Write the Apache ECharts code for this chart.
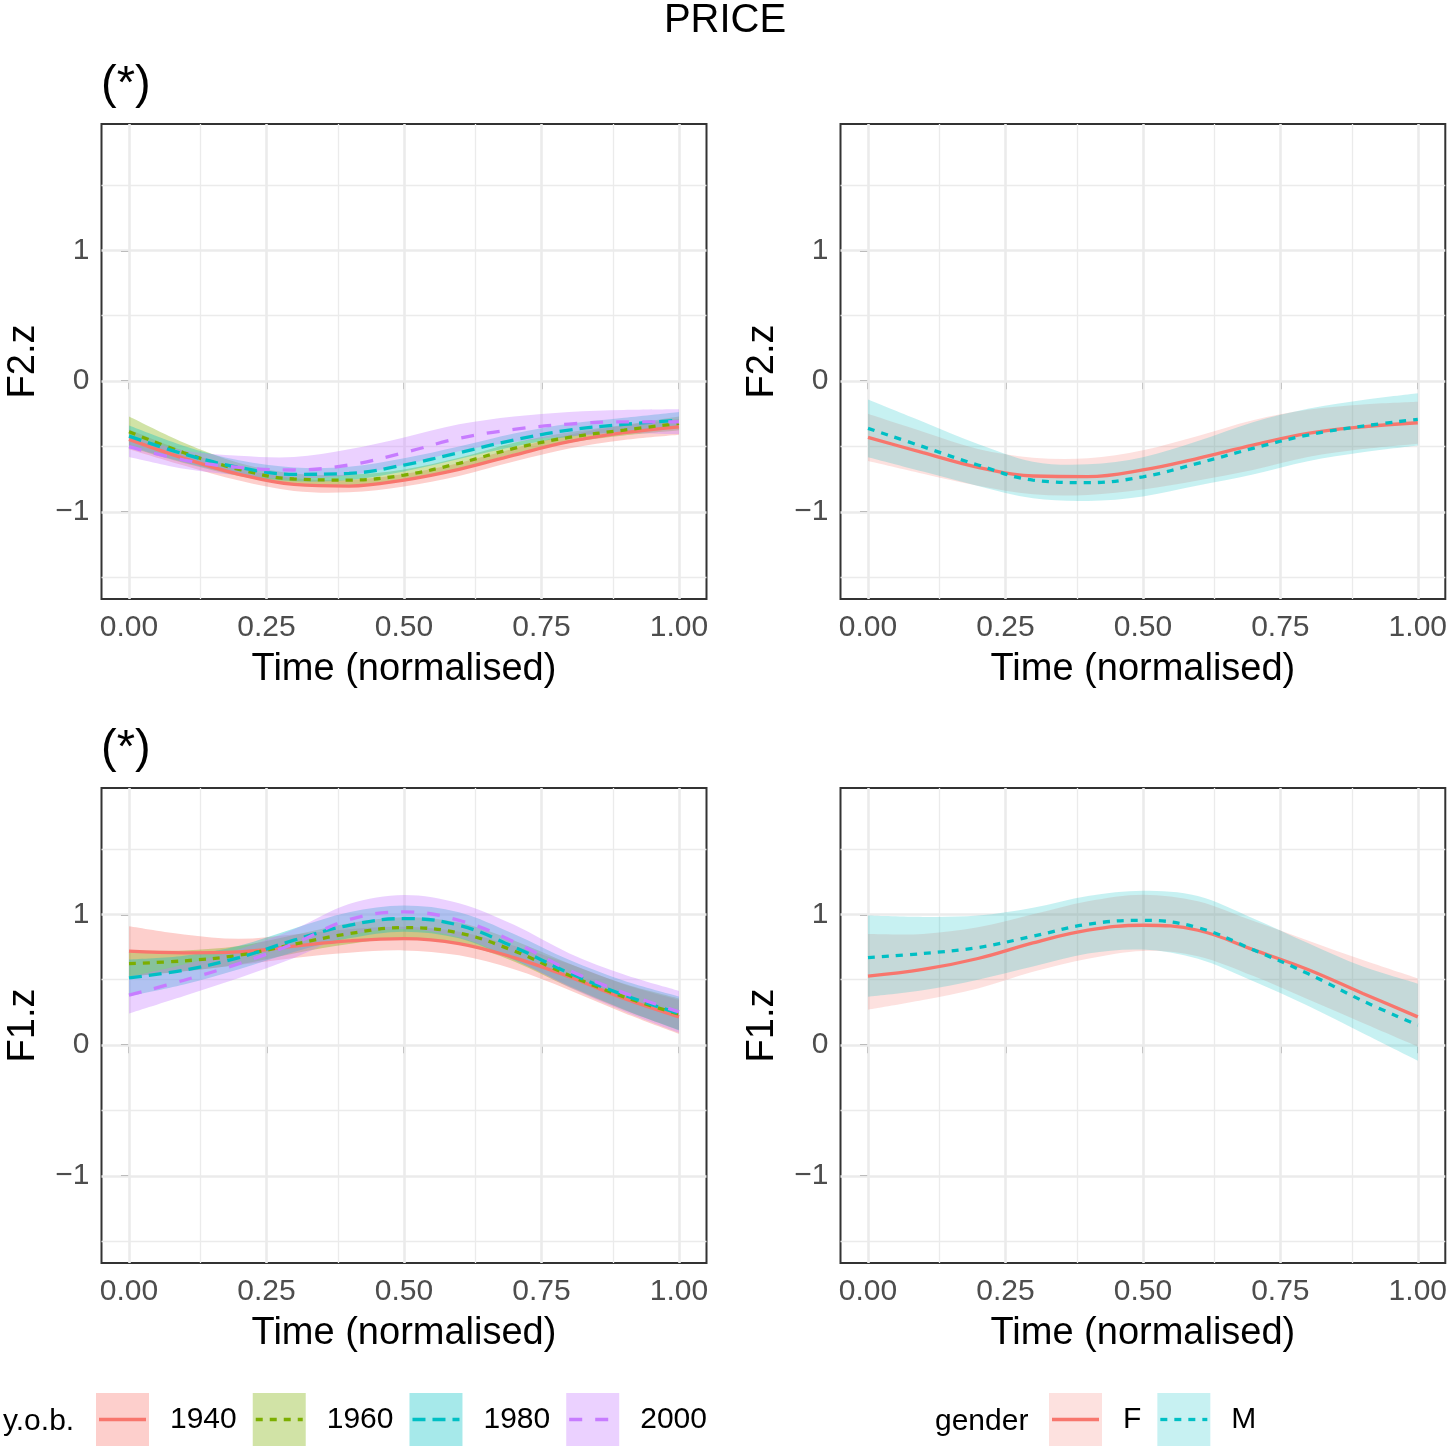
<!DOCTYPE html>
<html><head><meta charset="utf-8">
<script src="https://cdn.jsdelivr.net/npm/echarts@6/dist/echarts.min.js"></script>
<style>html,body{margin:0;padding:0;background:#fff}#c{width:1450px;height:1449px}</style>
</head><body><div id="c"></div>
<script>
// ---------------- DATA ----------------
const timePoints = [0, 0.1, 0.2, 0.3, 0.4, 0.5, 0.6, 0.7, 0.8, 0.9, 1.0];
const xTicks = [0, 0.25, 0.5, 0.75, 1];
const xMinor = [0.125, 0.375, 0.625, 0.875];
const yTicks = [-1, 0, 1];
const yMinor = [-1.5, -0.5, 0.5, 1.5];
const yobLevels = ['1940', '1960', '1980', '2000'];
const genderLevels = ['F', 'M'];

// F2.z by year of birth (top left)
const f2Yob1940Fit = [-0.445,-0.590,-0.712,-0.789,-0.802,-0.756,-0.674,-0.565,-0.463,-0.394,-0.349];
const f2Yob1940Lo  = [-0.52,-0.645,-0.76,-0.84,-0.85,-0.805,-0.725,-0.615,-0.515,-0.45,-0.41];
const f2Yob1940Hi  = [-0.37,-0.535,-0.665,-0.74,-0.755,-0.71,-0.625,-0.515,-0.41,-0.34,-0.29];
const f2Yob1960Fit = [-0.387,-0.547,-0.674,-0.748,-0.756,-0.718,-0.628,-0.514,-0.430,-0.374,-0.323];
const f2Yob1960Lo  = [-0.505,-0.625,-0.725,-0.79,-0.8,-0.76,-0.67,-0.555,-0.47,-0.415,-0.375];
const f2Yob1960Hi  = [-0.27,-0.47,-0.625,-0.705,-0.715,-0.675,-0.585,-0.47,-0.39,-0.335,-0.27];
const f2Yob1980Fit = [-0.420,-0.557,-0.659,-0.712,-0.705,-0.641,-0.547,-0.450,-0.374,-0.331,-0.298];
const f2Yob1980Lo  = [-0.5,-0.62,-0.715,-0.765,-0.755,-0.69,-0.595,-0.5,-0.425,-0.385,-0.36];
const f2Yob1980Hi  = [-0.34,-0.495,-0.605,-0.66,-0.655,-0.59,-0.5,-0.4,-0.325,-0.28,-0.235];
const f2Yob2000Fit = [-0.501,-0.603,-0.659,-0.679,-0.641,-0.547,-0.437,-0.369,-0.328,-0.311,-0.311];
const f2Yob2000Lo  = [-0.58,-0.67,-0.72,-0.745,-0.72,-0.64,-0.535,-0.465,-0.42,-0.4,-0.405];
const f2Yob2000Hi  = [-0.42,-0.53,-0.57,-0.58,-0.52,-0.43,-0.33,-0.27,-0.235,-0.22,-0.215];

// F2.z by gender (top right)
const f2GenFFit = [-0.430,-0.547,-0.659,-0.725,-0.730,-0.679,-0.590,-0.489,-0.399,-0.349,-0.318];
const f2GenFLo  = [-0.61,-0.707,-0.799,-0.865,-0.87,-0.829,-0.76,-0.679,-0.579,-0.519,-0.478];
const f2GenFHi  = [-0.25,-0.387,-0.519,-0.585,-0.59,-0.529,-0.42,-0.299,-0.219,-0.179,-0.158];
const f2GenMFit = [-0.361,-0.501,-0.641,-0.756,-0.776,-0.731,-0.628,-0.514,-0.412,-0.344,-0.292];
const f2GenMLo  = [-0.581,-0.691,-0.801,-0.896,-0.916,-0.881,-0.798,-0.714,-0.612,-0.544,-0.492];
const f2GenMHi  = [-0.141,-0.311,-0.481,-0.616,-0.636,-0.581,-0.458,-0.314,-0.212,-0.144,-0.092];

// F1.z by year of birth (bottom left)
const f1Yob1940Fit = [0.718,0.705,0.712,0.756,0.796,0.814,0.776,0.669,0.522,0.356,0.216];
const f1Yob1940Lo  = [0.528,0.565,0.612,0.666,0.706,0.724,0.686,0.579,0.422,0.246,0.086];
const f1Yob1940Hi  = [0.908,0.845,0.812,0.846,0.886,0.904,0.866,0.759,0.622,0.466,0.346];
const f1Yob1960Fit = [0.623,0.644,0.687,0.771,0.852,0.898,0.857,0.720,0.534,0.369,0.237];
const f1Yob1960Lo  = [0.523,0.564,0.617,0.701,0.772,0.818,0.777,0.64,0.444,0.269,0.117];
const f1Yob1960Hi  = [0.723,0.724,0.757,0.841,0.932,0.978,0.937,0.8,0.624,0.469,0.357];
const f1Yob1980Fit = [0.514,0.573,0.669,0.802,0.916,0.967,0.916,0.750,0.552,0.382,0.242];
const f1Yob1980Lo  = [0.374,0.463,0.579,0.712,0.816,0.867,0.816,0.65,0.452,0.272,0.112];
const f1Yob1980Hi  = [0.654,0.683,0.759,0.892,1.016,1.067,1.016,0.85,0.652,0.492,0.372];
const f1Yob2000Fit = [0.382,0.496,0.623,0.776,0.959,1.018,0.954,0.789,0.573,0.399,0.254];
const f1Yob2000Lo  = [0.242,0.376,0.513,0.666,0.839,0.888,0.824,0.659,0.443,0.259,0.094];
const f1Yob2000Hi  = [0.522,0.616,0.733,0.886,1.079,1.148,1.084,0.919,0.703,0.539,0.414];

// F1.z by gender (bottom right)
const f1GenFFit = [0.527,0.578,0.662,0.781,0.878,0.916,0.878,0.730,0.578,0.395,0.216];
const f1GenFLo  = [0.27,0.344,0.433,0.56,0.66,0.72,0.68,0.53,0.35,0.17,-0.01];
const f1GenFHi  = [0.85,0.85,0.9,1.0,1.1,1.15,1.1,0.95,0.8,0.65,0.51];
const f1GenMFit = [0.669,0.700,0.746,0.832,0.924,0.954,0.898,0.730,0.547,0.338,0.153];
const f1GenMLo  = [0.37,0.42,0.5,0.6,0.7,0.73,0.66,0.49,0.3,0.09,-0.12];
const f1GenMHi  = [0.99,0.98,0.99,1.05,1.14,1.18,1.14,0.97,0.78,0.6,0.47];

// ---------------- STYLE ----------------
const FONT = 'Liberation Sans';
const yobColors = ['#F8766D', '#7CAE00', '#00BFC4', '#C77CFF'];
const yobDash = ['solid', [7, 7], [13, 7], [13, 13]];
const genderColors = ['#F8766D', '#00BFC4'];
const genderDash = ['solid', [7, 7]];
const yobAlpha = 0.35, genderAlpha = 0.22;

function rgba(hex, a) {
  const n = parseInt(hex.slice(1), 16);
  return 'rgba(' + ((n >> 16) & 255) + ',' + ((n >> 8) & 255) + ',' + (n & 255) + ',' + a + ')';
}

const panels = [
  { grid: { left: 101.5, top: 124, width: 605, height: 475 }, yName: 'F2.z', levels: yobLevels, colors: yobColors, dash: yobDash, alpha: yobAlpha,
    fits: [f2Yob1940Fit, f2Yob1960Fit, f2Yob1980Fit, f2Yob2000Fit], los: [f2Yob1940Lo, f2Yob1960Lo, f2Yob1980Lo, f2Yob2000Lo], his: [f2Yob1940Hi, f2Yob1960Hi, f2Yob1980Hi, f2Yob2000Hi] },
  { grid: { left: 840.5, top: 124, width: 605, height: 475 }, yName: 'F2.z', levels: genderLevels, colors: genderColors, dash: genderDash, alpha: genderAlpha,
    fits: [f2GenFFit, f2GenMFit], los: [f2GenFLo, f2GenMLo], his: [f2GenFHi, f2GenMHi] },
  { grid: { left: 101.5, top: 788, width: 605, height: 475 }, yName: 'F1.z', levels: yobLevels, colors: yobColors, dash: yobDash, alpha: yobAlpha,
    fits: [f1Yob1940Fit, f1Yob1960Fit, f1Yob1980Fit, f1Yob2000Fit], los: [f1Yob1940Lo, f1Yob1960Lo, f1Yob1980Lo, f1Yob2000Lo], his: [f1Yob1940Hi, f1Yob1960Hi, f1Yob1980Hi, f1Yob2000Hi] },
  { grid: { left: 840.5, top: 788, width: 605, height: 475 }, yName: 'F1.z', levels: genderLevels, colors: genderColors, dash: genderDash, alpha: genderAlpha,
    fits: [f1GenFFit, f1GenMFit], los: [f1GenFLo, f1GenMLo], his: [f1GenFHi, f1GenMHi] }
];

const minus = v => (v < 0 ? '\u2212' + Math.abs(v) : String(v));

// smooth path through screen points (Catmull-Rom -> cubic Bezier)
function curvePath(pts, first) {
  let d = (first ? 'M' : 'L') + pts[0][0] + ' ' + pts[0][1];
  for (let i = 0; i < pts.length - 1; i++) {
    const p0 = pts[Math.max(0, i - 1)], p1 = pts[i], p2 = pts[i + 1], p3 = pts[Math.min(pts.length - 1, i + 2)];
    const c1 = [p1[0] + (p2[0] - p0[0]) / 6, p1[1] + (p2[1] - p0[1]) / 6];
    const c2 = [p2[0] - (p3[0] - p1[0]) / 6, p2[1] - (p3[1] - p1[1]) / 6];
    d += 'C' + c1[0] + ' ' + c1[1] + ' ' + c2[0] + ' ' + c2[1] + ' ' + p2[0] + ' ' + p2[1];
  }
  return d;
}

function bandSeries(gi, name, lo, hi, fill) {
  return {
    type: 'custom', name: name, xAxisIndex: gi, yAxisIndex: gi, silent: true, z: 2,
    data: timePoints.map((t, k) => [t, lo[k], hi[k]]),
    encode: { x: 0, y: [1, 2] },
    renderItem: function (params, api) {
      if (params.dataIndex !== 0) return null;
      const up = timePoints.map((t, k) => api.coord([t, hi[k]]));
      const dn = timePoints.map((t, k) => api.coord([t, lo[k]])).reverse();
      const d = curvePath(up, true) + curvePath(dn, false) + 'Z';
      return { type: 'path', shape: { pathData: d }, style: { fill: fill, stroke: null } };
    }
  };
}

const grids = [], xAxes = [], yAxes = [], series = [];
panels.forEach((p, gi) => {
  grids.push(Object.assign({ show: true, borderColor: '#333333', borderWidth: 2, backgroundColor: 'transparent', containLabel: false }, p.grid));
  xAxes.push({
    type: 'value', gridIndex: gi, min: -0.05, max: 1.05,
    axisLine: { show: false },
    axisTick: { show: true, customValues: xTicks, length: 8, lineStyle: { color: '#333333', width: 2 } },
    axisLabel: { customValues: xTicks, formatter: v => v.toFixed(2), fontSize: 30, color: '#4D4D4D', margin: 14, fontFamily: FONT },
    splitLine: { show: false },
    name: 'Time (normalised)', nameLocation: 'middle', nameGap: 52,
    nameTextStyle: { fontSize: 38, color: '#000', fontFamily: FONT }
  });
  yAxes.push({
    type: 'value', gridIndex: gi, min: -1.665, max: 1.965,
    axisLine: { show: false },
    axisTick: { show: true, customValues: yTicks, length: 8, lineStyle: { color: '#333333', width: 2 } },
    axisLabel: { customValues: yTicks, formatter: minus, fontSize: 30, color: '#4D4D4D', margin: 12, fontFamily: FONT },
    splitLine: { show: false },
    name: p.yName, nameLocation: 'middle', nameGap: 59,
    nameTextStyle: { fontSize: 38, color: '#000', fontFamily: FONT }
  });

  // grid lines (panel background), drawn through markLine on the axis scales
  const mk = [];
  xMinor.forEach(v => mk.push({ xAxis: v, lineStyle: { color: '#EBEBEB', width: 1.3, type: 'solid' } }));
  yMinor.forEach(v => mk.push({ yAxis: v, lineStyle: { color: '#EBEBEB', width: 1.3, type: 'solid' } }));
  xTicks.forEach(v => mk.push({ xAxis: v, lineStyle: { color: '#EBEBEB', width: 2.6, type: 'solid' } }));
  yTicks.forEach(v => mk.push({ yAxis: v, lineStyle: { color: '#EBEBEB', width: 2.6, type: 'solid' } }));

  // ribbons
  p.levels.forEach((lev, li) => {
    series.push(bandSeries(gi, lev + ' band', p.los[li], p.his[li], rgba(p.colors[li], p.alpha)));
  });
  // fitted lines
  p.levels.forEach((lev, li) => {
    const s = {
      type: 'line', name: lev, xAxisIndex: gi, yAxisIndex: gi,
      data: timePoints.map((t, k) => [t, p.fits[li][k]]), smooth: 0.4, symbol: 'none', silent: true,
      itemStyle: { color: p.colors[li] },
      lineStyle: { color: p.colors[li], width: 3.3, type: p.dash[li] }, z: 3
    };
    if (li === 0) {
      s.markLine = { silent: true, symbol: ['none', 'none'], label: { show: false }, z: 1, animation: false, data: mk };
    }
    series.push(s);
  });
});

// legend geometry
const legendTop = 1393, keySize = 53, keyTextPad = 16, keyGap = 16;
const legendDefs = [
  { title: 'y.o.b.', titleX: 3, left: 96, levels: yobLevels, colors: yobColors, dash: yobDash, alpha: yobAlpha },
  { title: 'gender', titleX: 935, left: 1049, levels: genderLevels, colors: genderColors, dash: genderDash, alpha: genderAlpha }
];
const cv = document.createElement('canvas').getContext('2d');
cv.font = '30px ' + FONT;

const legends = [], graphics = [];
legendDefs.forEach(ld => {
  legends.push({
    left: ld.left, top: legendTop, orient: 'horizontal', padding: 0,
    itemWidth: keySize, itemHeight: keySize, itemGap: keyGap, icon: 'rect', selectedMode: false,
    data: ld.levels.map((n, i) => ({ name: n, icon: 'rect', itemStyle: { color: rgba(ld.colors[i], ld.alpha), borderWidth: 0, borderColor: 'transparent', opacity: 1 } })),
    textStyle: { fontSize: 30, color: '#000', fontFamily: FONT, padding: [4, 0, 0, keyTextPad] }
  });
  graphics.push({ type: 'text', left: ld.titleX, top: legendTop + keySize / 2 - 13, z: 100,
    style: { text: ld.title, fontSize: 30, fontFamily: FONT, fill: '#000' } });
  let x = ld.left;
  ld.levels.forEach((n, i) => {
    const d = ld.dash[i];
    graphics.push({
      type: 'line', z: 100, silent: true,
      shape: { x1: x + 3, y1: legendTop + keySize / 2, x2: x + keySize - 3, y2: legendTop + keySize / 2 },
      style: { stroke: ld.colors[i], lineWidth: 3.3, lineDash: d === 'solid' ? null : d }
    });
    x += keySize + 5 + keyTextPad + cv.measureText(n).width + keyGap;
  });
});

const option = {
  animation: false,
  backgroundColor: '#fff',
  textStyle: { fontFamily: FONT },
  title: [
    { text: 'PRICE', left: 'center', top: 1, padding: 0, textStyle: { fontSize: 40, fontWeight: 'normal', color: '#000', fontFamily: FONT } },
    { text: '(*)', left: 101, top: 62, padding: 0, textStyle: { fontSize: 47, fontWeight: 'normal', color: '#000', fontFamily: FONT } },
    { text: '(*)', left: 101, top: 726, padding: 0, textStyle: { fontSize: 47, fontWeight: 'normal', color: '#000', fontFamily: FONT } }
  ],
  grid: grids, xAxis: xAxes, yAxis: yAxes, series: series,
  legend: legends,
  graphic: graphics
};

const chart = echarts.init(document.getElementById('c'), null, { renderer: 'canvas' });
chart.setOption(option);
</script>
</body></html>
